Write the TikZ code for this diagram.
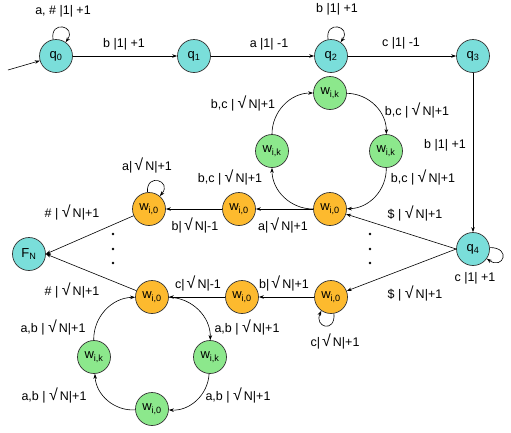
\documentclass[tikz,border=0pt]{standalone}
\usepackage{fontspec}
\setmainfont{Liberation Sans}
\usetikzlibrary{arrows.meta}
\definecolor{qcol}{RGB}{122,222,218}
\definecolor{gcol}{RGB}{140,232,140}
\definecolor{ocol}{RGB}{253,186,46}
\newcommand\myroot{{\fontsize{16}{16}\selectfont √}}
\begin{document}
\begin{tikzpicture}[x=1pt,y=1pt,
  st/.style={circle,draw=black!80,line width=0.7pt,minimum size=33pt,inner sep=0pt,font=\fontsize{13}{13}\selectfont},
  qs/.style={st,fill=qcol},
  gs/.style={st,fill=gcol},
  os/.style={st,fill=ocol},
  lab/.style={font=\fontsize{12.5}{12.5}\selectfont,inner sep=0pt},
  arr/.style={-{Stealth[length=5pt,width=3.5pt]},line width=0.6pt},
  dotm/.style={circle,fill=black,inner sep=0pt,minimum size=2.6pt}]
\useasboundingbox (0,0) rectangle (511,-432);
% states
\node[qs] (q0) at (56,-56) {q\textsubscript{0}};
\node[qs] (q1) at (194,-56) {q\textsubscript{1}};
\node[qs] (q2) at (331,-56) {q\textsubscript{2}};
\node[qs] (q3) at (473,-56) {q\textsubscript{3}};
\node[qs] (q4) at (473,-249) {q\textsubscript{4}};
\node[qs] (FN) at (29,-254) {F\textsubscript{N}};
% top cycle
\node[gs] (gt) at (330,-93) {w\textsubscript{i,k}};
\node[gs] (gl) at (272,-151) {w\textsubscript{i,k}};
\node[gs] (gr) at (386,-151) {w\textsubscript{i,k}};
\node[os] (o1) at (330,-209) {w\textsubscript{i,0}};
\node[os] (o2) at (239,-209) {w\textsubscript{i,0}};
\node[os] (o3) at (149,-209) {w\textsubscript{i,0}};
% bottom row
\node[os] (p1) at (331,-297) {w\textsubscript{i,0}};
\node[os] (p2) at (242,-297) {w\textsubscript{i,0}};
\node[os] (p3) at (152,-297) {w\textsubscript{i,0}};
% bottom cycle
\node[gs] (bl) at (94,-357) {w\textsubscript{i,k}};
\node[gs] (br) at (210,-357) {w\textsubscript{i,k}};
\node[gs] (bb) at (152,-409) {w\textsubscript{i,0}};
% initial
\coordinate (init) at (8,-70);
\draw[arr] (init) -- (q0);
% top row
\draw[arr] (q0) -- (q1);
\draw[arr] (q1) -- (q2);
\draw[arr] (q2) -- (q3);
\draw[arr] (q3) -- (q4);
\draw[arr] (q0.100) .. controls +(100:20) and +(55:20) .. (q0.55);
\draw[arr] (q2.100) .. controls +(100:20) and +(55:20) .. (q2.55);
\draw[arr] (q4.5) .. controls +(0:22) and +(-35:20) .. (q4.-35);
% q4 to orange
\draw[arr] (q4.west) -- (o1);
\draw[arr] (q4.west) -- (p1);
% top row of orange
\draw[arr] (o1) -- (o2);
\draw[arr] (o2) -- (o3);
\draw[arr] (o3.95) .. controls +(95:20) and +(50:20) .. (o3.50);
\draw[arr] (o3) -- (FN.east);
% bottom row of orange
\draw[arr] (p1) -- (p2);
\draw[arr] (p2) -- (p3);
\draw[arr] (p1.-80) .. controls +(-85:20) and +(-115:18) .. (p1.-125);
\draw[arr] (p3) -- (FN.east);
% top cycle
\draw[arr] (o1) to[bend left=45] (gl);
\draw[arr] (gl) to[bend left=45] (gt);
\draw[arr] (gt) to[bend left=45] (gr);
\draw[arr] (gr) to[bend left=45] (o1);
% bottom cycle
\draw[arr] (p3) to[bend left=45] (br);
\draw[arr] (br) to[bend left=45] (bb);
\draw[arr] (bb) to[bend left=45] (bl);
\draw[arr] (bl) to[bend left=45] (p3);
% dots
\node[dotm] (d1) at (113,-234) {};
\node[dotm] (d2) at (113,-249) {};
\node[dotm] (d3) at (113,-263) {};
\node[dotm] (d4) at (370,-234) {};
\node[dotm] (d5) at (370,-249) {};
\node[dotm] (d6) at (370,-263) {};
% labels
\node[lab] (l1) at (63,-11) {a, \# |1| +1};
\node[lab] (l2) at (124,-44) {b |1| +1};
\node[lab] (l3) at (269,-44) {a |1| -1};
\node[lab] (l4) at (337,-9) {b |1| +1};
\node[lab] (l5) at (401,-43) {c |1| -1};
\node[lab] (l6) at (445,-145) {b |1| +1};
\node[lab] (l7) at (475,-278) {c |1| +1};
\node[lab] (l8) at (243,-103) {b,c | \myroot\,N|+1};
\node[lab] (l9) at (417,-110) {b,c | \myroot\,N|+1};
\node[lab] (l10) at (230,-177) {b,c | \myroot\,N|+1};
\node[lab] (l11) at (423,-177) {b,c | \myroot\,N|+1};
\node[lab] (l12) at (415,-213) {\$ | \myroot\,N|+1};
\node[lab] (l13) at (415,-293) {\$ | \myroot\,N|+1};
\node[lab] (l14) at (283,-225) {a|\,\myroot\,N|+1};
\node[lab] (l15) at (195,-225) {b|\,\myroot\,N|-1};
\node[lab] (l16) at (147,-165) {a|\,\myroot\,N|+1};
\node[lab] (l17) at (72,-212) {\# | \myroot\,N|+1};
\node[lab] (l18) at (72,-290) {\# | \myroot\,N|+1};
\node[lab] (l19) at (198,-283) {c|\,\myroot\,N|-1};
\node[lab] (l20) at (284,-283) {b|\,\myroot\,N|+1};
\node[lab] (l21) at (335,-341) {c|\,\myroot\,N|+1};
\node[lab] (l22) at (53,-327) {a,b | \myroot\,N|+1};
\node[lab] (l23) at (247,-327) {a,b | \myroot\,N|+1};
\node[lab] (l24) at (54,-395) {a,b | \myroot\,N|+1};
\node[lab] (l25) at (238,-395) {a,b | \myroot\,N|+1};
\end{tikzpicture}
\end{document}
